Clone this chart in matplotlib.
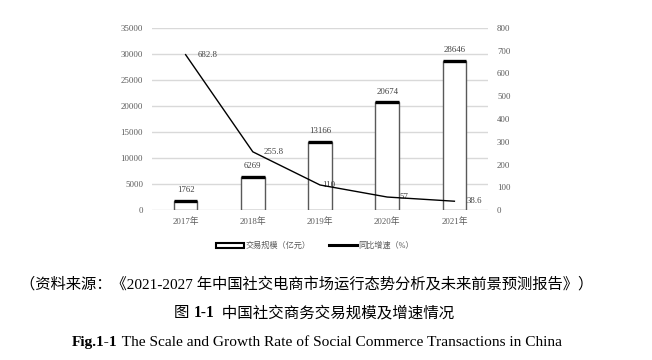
import matplotlib.pyplot as plt
from matplotlib.patches import Patch
from matplotlib.lines import Line2D

# ------------------------------------------------------------
# Data
# ------------------------------------------------------------
years = ["2017年", "2018年", "2019年", "2020年", "2021年"]
scale = [1762, 6269, 13166, 20674, 28646]          # 交易规模（亿元）
growth = [682.8, 255.8, 110, 57, 38.6]             # 同比增速（%）
growth_labels = ["682.8", "255.8", "110", "57", "38.6"]

CJK = ["Liberation Serif", "Noto Sans CJK SC", "DejaVu Sans"]
SERIF = ["Liberation Serif", "DejaVu Serif"]

W, H = 652, 360
fig = plt.figure(figsize=(W / 100, H / 100), dpi=100)
fig.patch.set_facecolor("white")

ax = fig.add_axes([152 / W, 1 - 210 / H, 336 / W, 182 / H])
ax2 = ax.twinx()

x = list(range(len(years)))

# ------------------------------------------------------------
# Bars (left axis)
# ------------------------------------------------------------
bw = 0.35
ax.bar(x, scale, width=bw, color="white", edgecolor="#595959",
       linewidth=1.0, zorder=2)
ax.hlines(scale, [i - bw / 2 for i in x], [i + bw / 2 for i in x],
          color="black", linewidth=2.4, zorder=3)

for xi, v in zip(x, scale):
    ax.annotate(str(v), (xi, v), xytext=(0, 5), textcoords="offset points",
                ha="center", va="bottom", fontsize=6.3, family=SERIF,
                color="#404040")

ax.set_ylim(0, 35000)
ax.set_yticks(range(0, 35001, 5000))
ax.set_xlim(-0.5, 4.5)
ax.set_xticks(x)
ax.set_xticklabels(years, family=CJK)
ax.grid(axis="y", color="#d9d9d9", linewidth=1.0, zorder=0)
ax.set_axisbelow(True)

# ------------------------------------------------------------
# Line (right axis)
# ------------------------------------------------------------
label_dx = [8.5, 8, 1.5, 8.5, 8.5]
ax2.plot(x, growth, color="black", linewidth=1.0, zorder=4)
for xi, v, lab, dx in zip(x, growth, growth_labels, label_dx):
    ax2.annotate(lab, (xi, v), xytext=(dx, 0), textcoords="offset points",
                 ha="left", va="center", fontsize=6.3, family=SERIF,
                 color="#404040")
ax2.set_ylim(0, 800)
ax2.set_yticks(range(0, 801, 100))

for a in (ax, ax2):
    for s in a.spines.values():
        s.set_visible(False)
    a.tick_params(length=0, labelsize=6.3, colors="#595959")
for lab in ax.get_yticklabels() + ax2.get_yticklabels():
    lab.set_family(SERIF)
ax.tick_params(axis="y", pad=6.5)
ax2.tick_params(axis="y", pad=6.5)
ax.tick_params(axis="x", pad=5)

# ------------------------------------------------------------
# Legend
# ------------------------------------------------------------
handles = [
    Patch(facecolor="white", edgecolor="black", linewidth=1.5),
    Line2D([0], [0], color="black", linewidth=2.2),
]
fig.legend(handles, ["交易规模（亿元）", "同比增速（%）"],
           loc="center", bbox_to_anchor=(315 / W, 1 - 246 / H), ncol=2,
           frameon=False, handlelength=3.4, handleheight=0.6,
           columnspacing=2.2, handletextpad=0.2,
           prop={"family": CJK, "size": 5.9}, labelcolor="#595959")

# ------------------------------------------------------------
# Captions (each line fitted between a left and right pixel edge)
# ------------------------------------------------------------
fig.canvas.draw()
r = fig.canvas.get_renderer()


def caption(pieces, x0, x1, baseline, size=10):
    texts = [fig.text(0, 0, s, fontsize=size, va="baseline", ha="left", **kw)
             for s, kw in pieces]

    def place():
        cx = x0
        for t in texts:
            t.set_position((cx / W, 1 - baseline / H))
            cx += t.get_window_extent(r).width

    place()
    total = sum(t.get_window_extent(r).width for t in texts)
    for t in texts:
        t.set_fontsize(size * (x1 - x0) / total)
    place()


caption([("（资料来源：《2021-2027 年中国社交电商市场运行态势分析及未来前景预测报告》）",
          {"family": CJK})], 20, 595, 289)

caption([("图 ", {"family": CJK}),
         ("1-1", {"family": SERIF, "weight": "bold"}),
         ("  中国社交商务交易规模及增速情况", {"family": CJK})], 174, 454, 317)

caption([("Fig.1-1", {"family": SERIF, "weight": "bold"}),
         (" The Scale and Growth Rate of Social Commerce Transactions in China",
          {"family": SERIF})], 72, 560, 346)

fig.savefig("out.png", dpi=100)
